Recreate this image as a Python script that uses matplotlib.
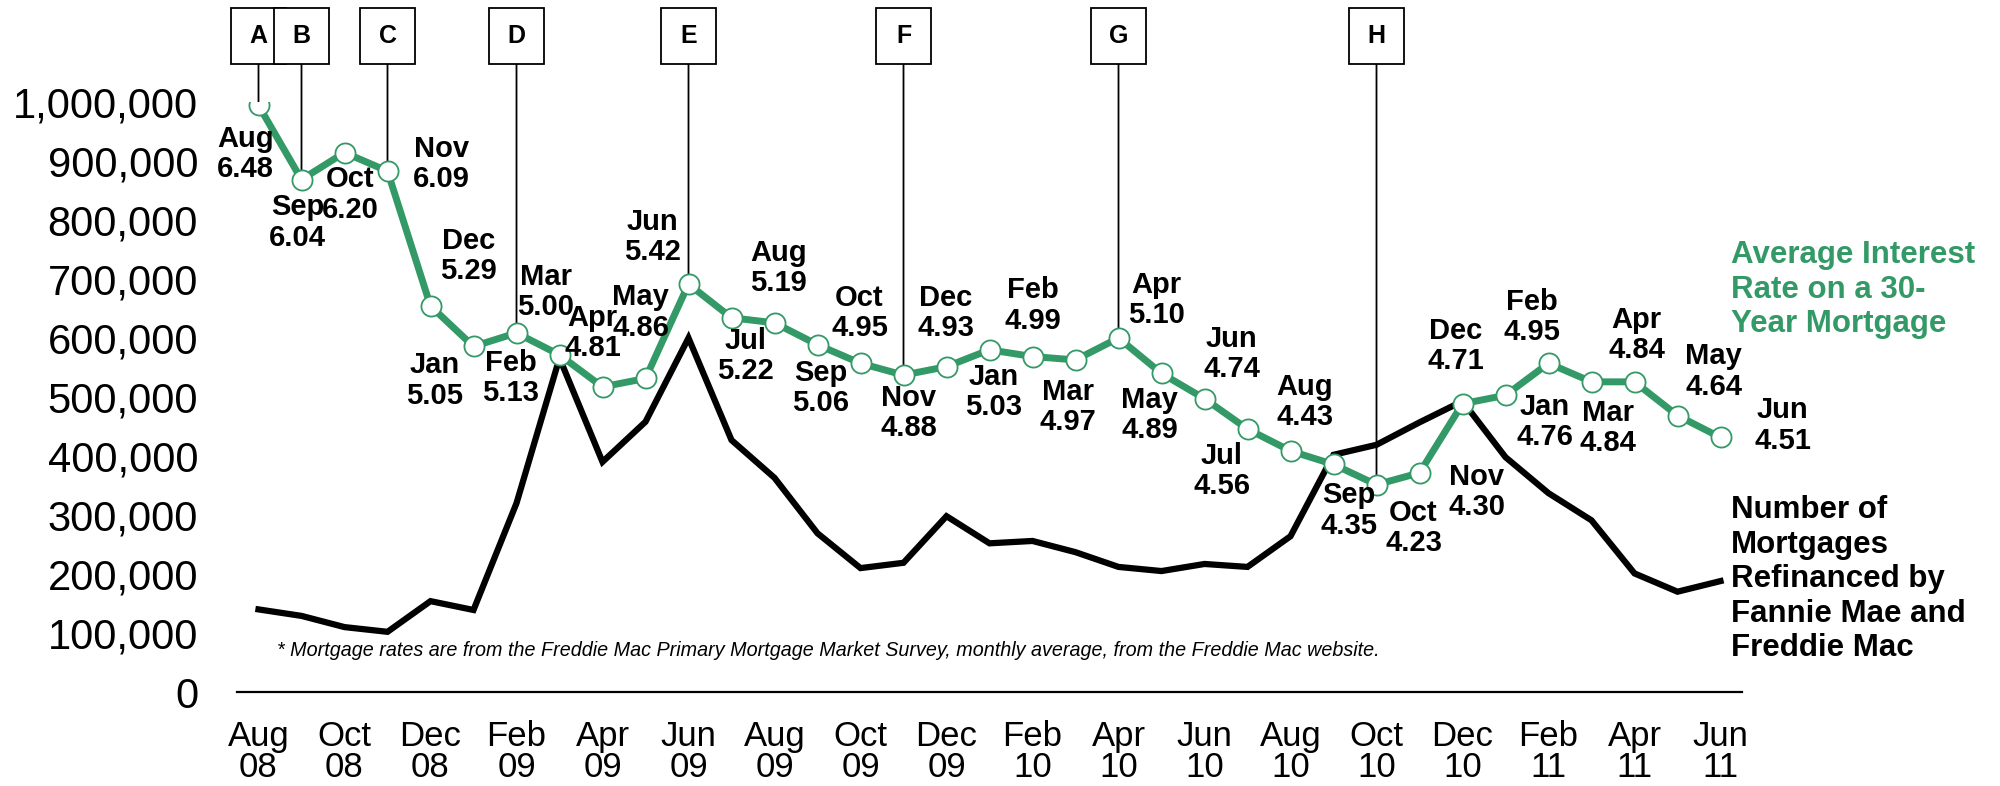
import matplotlib
matplotlib.use('Agg')
import matplotlib.pyplot as plt
import matplotlib.transforms as mtransforms
from matplotlib.patches import Rectangle, ConnectionPatch
from matplotlib.ticker import FuncFormatter

plt.rcParams['font.family'] = ['Liberation Sans', 'DejaVu Sans']

# monthly data, Aug 2008 .. Jun 2011
months = ['Aug', 'Sep', 'Oct', 'Nov', 'Dec',
          'Jan', 'Feb', 'Mar', 'Apr', 'May', 'Jun', 'Jul', 'Aug', 'Sep', 'Oct', 'Nov', 'Dec',
          'Jan', 'Feb', 'Mar', 'Apr', 'May', 'Jun', 'Jul', 'Aug', 'Sep', 'Oct', 'Nov', 'Dec',
          'Jan', 'Feb', 'Mar', 'Apr', 'May', 'Jun']
years = ['08'] * 5 + ['09'] * 12 + ['10'] * 12 + ['11'] * 6

refinanced = [140000, 129000, 110000, 102000, 154000, 139000, 320000, 566000,
              390000, 458000, 600000, 427000, 363000, 269000, 210000, 219000,
              298000, 252000, 256000, 237000, 212000, 205000, 217000, 212000,
              264000, 402000, 419000, 457000, 493000, 398000, 337000, 291000,
              201000, 170000, 188000]

rates = [6.48, 6.04, 6.20, 6.09, 5.29, 5.05, 5.13, 5.00, 4.81, 4.86, 5.42, 5.22,
         5.19, 5.06, 4.95, 4.88, 4.93, 5.03, 4.99, 4.97, 5.10, 4.89, 4.74, 4.56,
         4.43, 4.35, 4.23, 4.30, 4.71, 4.76, 4.95, 4.84, 4.84, 4.64, 4.51]

event_letters = ['A', 'B', 'C', 'D', 'E', 'F', 'G', 'H']
event_months = [0, 1, 3, 6, 10, 15, 20, 26]

# label offsets from each point, in pixels (dx right, dy down)
label_off = [(-13, 49), (-4, 43), (6, 42), (54, -7), (38, -50), (-39, 34), (-6, 45),
             (-14, -63), (-10, -54), (-5, -66), (-36, -47), (14, 38), (4, -55),
             (3, 43), (-1, -50), (5, 38), (-1, -54), (4, 42), (0, -51), (-8, 47),
             (38, -38), (-12, 42), (27, -45), (-26, 42), (14, -49), (15, 46),
             (37, 43), (57, 19), (-7, -58), (39, 27), (-17, -46), (16, 46),
             (2, -47), (36, -44), (62, -12)]

green = '#339966'
W, H = 2000, 786

fig = plt.figure(figsize=(20, 7.86), dpi=100)
ax = fig.add_axes([237 / W, 1 - 692 / H, (1742 - 237) / W, 590 / H])
x = list(range(len(months)))

ax.plot(x, refinanced, color='black', lw=4.5, zorder=2, solid_joinstyle='miter')
ax.set_xlim(-0.5, len(months) - 0.5)
ax.set_ylim(0, 1000000)
ax.set_yticks(range(0, 1000001, 100000))
ax.yaxis.set_major_formatter(FuncFormatter(lambda v, p: f'{int(v):,}'))
ax.set_xticks(x[::2])
ax.set_xticklabels([f'{m}\n{y}' for m, y in zip(months[::2], years[::2])],
                   linespacing=0.95)
ax.tick_params(axis='y', length=0, labelsize=30, pad=28)
ax.tick_params(axis='x', length=0, labelsize=25, pad=20)
for s in ['top', 'left', 'right']:
    ax.spines[s].set_visible(False)
ax.spines['bottom'].set_linewidth(1.6)
ax.patch.set_visible(False)

ax2 = ax.twinx()
ax2.set_ylim(3.0, 6.5)
ax2.axis('off')
ax2.plot(x, rates, color=green, lw=5, marker='o', ms=14.5,
         mfc='white', mec=green, mew=1.3, zorder=3)

for i, (r, m) in enumerate(zip(rates, months)):
    dx, dy = label_off[i]
    ax2.annotate(f'{m}\n{r:.2f}', (i, r), xytext=(dx, -dy), textcoords='offset pixels',
                 ha='center', va='center', fontsize=21, fontweight='bold',
                 linespacing=1.1, zorder=4)

# event boxes with leader lines
trans = mtransforms.blended_transform_factory(ax.transData, fig.transFigure)
box_w = 55 / ((1742 - 237) / len(months))
box_bot = 1 - 64 / H
box_h = 56 / H
for letter, i in zip(event_letters, event_months):
    con = ConnectionPatch(xyA=(i, box_bot), coordsA=trans, xyB=(i, rates[i]),
                          coordsB=ax2.transData, color='black', lw=1.3, zorder=1)
    ax.add_artist(con)
    ax.add_patch(Rectangle((i - box_w / 2, box_bot), box_w, box_h, transform=trans,
                           facecolor='white', edgecolor='black', lw=1.3,
                           clip_on=False, zorder=5))
    ax.text(i, box_bot + box_h / 2, letter, transform=trans, ha='center', va='center',
            fontsize=18, fontweight='bold', zorder=6)

fig.text(1731 / W, 1 - 240 / H, 'Average Interest\nRate on a 30-\nYear Mortgage',
         color=green, fontsize=22.5, fontweight='bold', va='top', ha='left')
fig.text(1731 / W, 1 - 495 / H,
         'Number of\nMortgages\nRefinanced by\nFannie Mae and\nFreddie Mac',
         color='black', fontsize=22.5, fontweight='bold', va='top', ha='left')
fig.text(277 / W, 1 - 650 / H,
         '* Mortgage rates are from the Freddie Mac Primary Mortgage Market Survey, '
         'monthly average, from the Freddie Mac website.',
         fontsize=14.2, style='italic', va='center', ha='left')

fig.savefig('out.png', dpi=100)
